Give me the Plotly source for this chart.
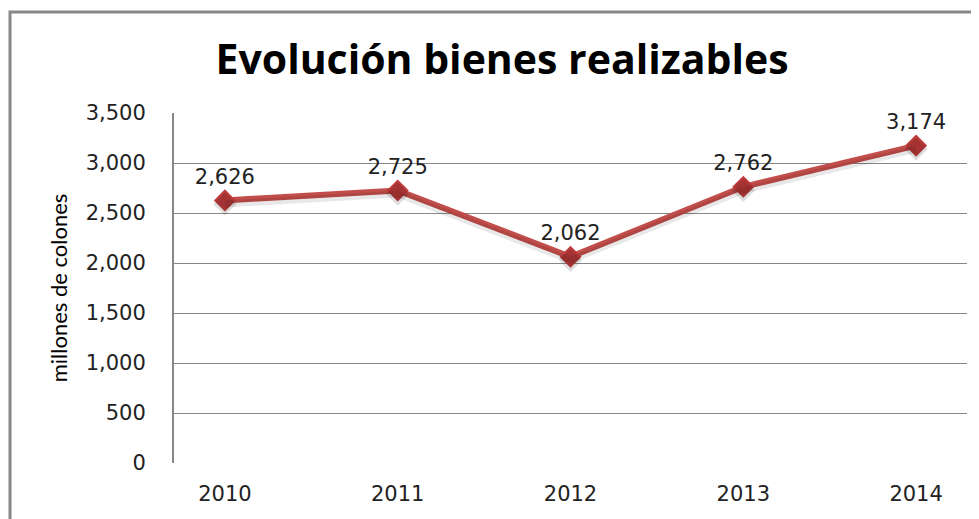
import plotly.graph_objects as go

years = ["2010", "2011", "2012", "2013", "2014"]
values = [2626, 2725, 2062, 2762, 3174]
labels = ["2,626", "2,725", "2,062", "2,762", "3,174"]
y_ticks = [0, 500, 1000, 1500, 2000, 2500, 3000, 3500]
y_tick_text = ["0", "500", "1,000", "1,500", "2,000", "2,500", "3,000", "3,500"]

# page body has an 8px margin, so figure coords = window coords - 8
OFF = 8
W, H = 979, 519
L, T = 174 - OFF, 113 - OFF
R = W - (967 - OFF)
B = H - (463 - OFF)
pw, ph = W - L - R, H - T - B

fig = go.Figure()
# soft drop shadow under the line (same data on an offset overlay axis)
fig.add_trace(go.Scatter(
    x=years, y=values, mode="lines+markers", yaxis="y2",
    line=dict(color="rgba(0,0,0,0.09)", width=7),
    marker=dict(symbol="diamond", size=18, color="rgba(0,0,0,0.13)"),
    hoverinfo="skip", showlegend=False, cliponaxis=False,
))
fig.add_trace(go.Scatter(
    x=years, y=values, mode="lines+markers+text",
    text=labels, textposition="top center",
    textfont=dict(family="DejaVu Sans", size=21, color="#222222"),
    line=dict(color="#C24E4B", width=6),
    marker=dict(symbol="diamond", size=17, color="#BF3B3B"),
    cliponaxis=False, showlegend=False,
))

gray = "#878787"
tickfont = dict(family="DejaVu Sans", size=21, color="#222222")
fig.update_layout(
    width=W, height=H,
    margin=dict(l=L, r=R, t=T, b=B, autoexpand=False),
    paper_bgcolor="white", plot_bgcolor="white",
    title=dict(text="<b>Evolución bienes realizables</b>", x=(502 - OFF) / W, xanchor="center",
               y=1 - (60 - OFF) / H, yanchor="middle",
               font=dict(family="Open Sans", size=41, color="black")),
    xaxis=dict(type="category", showgrid=False, showline=False, zeroline=False,
               automargin=False,
               ticks="outside", ticklen=12, tickcolor="rgba(0,0,0,0)",
               tickfont=tickfont),
    yaxis=dict(range=[0, 3500], tickvals=y_ticks, ticktext=y_tick_text,
               automargin=False,
               showgrid=True, gridcolor=gray, gridwidth=1, zeroline=False,
               showline=True, linecolor=gray, linewidth=2,
               ticks="outside", ticklen=22, tickcolor="rgba(0,0,0,0)",
               tickfont=tickfont,
               title=dict(text="millones de colones", standoff=12,
                          font=dict(family="Lato", size=22, color="black"))),
    yaxis2=dict(overlaying="y", range=[35, 3535], visible=False),
)

# outer chart frame (cropped at right and bottom like the reference)
fig.add_shape(type="rect", xref="paper", yref="paper",
              x0=(10 - OFF - L) / pw, x1=(W + 20 - L) / pw,
              y0=-(B + 20) / ph, y1=(H - B - (12 - OFF)) / ph,
              line=dict(color=gray, width=3), fillcolor="rgba(0,0,0,0)", layer="below")

fig.write_html("out.html")
